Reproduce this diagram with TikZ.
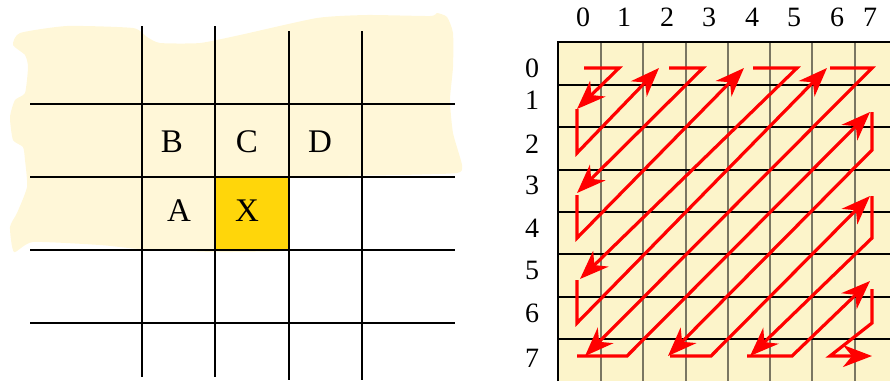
\documentclass[tikz,border=0pt]{standalone}
\usepackage{fontspec}
\setmainfont{Liberation Serif}
\usetikzlibrary{arrows.meta}
\definecolor{cream}{HTML}{FFF7D8}
\definecolor{gold}{HTML}{FFD60A}
\definecolor{gridfill}{HTML}{FCF4CA}
\definecolor{gridgray}{HTML}{7A7662}
\definecolor{zzred}{HTML}{FF0000}
\tikzset{
  lgrid/.style={line width=1.5pt, black},
  vline/.style={line width=1.3pt, gridgray},
  hline/.style={line width=1.1pt, black},
  zz/.style={line width=3.2pt, zzred, -{Stealth[length=29pt, width=22pt, inset=9pt]}},
  letter/.style={font=\fontsize{33}{35}\selectfont, inner sep=0pt},
  num/.style={font=\fontsize{28}{30}\selectfont, inner sep=0pt},
}
\begin{document}
\begin{tikzpicture}[x=1pt, y=-1pt]
\useasboundingbox (0,0) rectangle (890,381);
% ---------- left picture ----------
\fill[cream] plot[smooth cycle, tension=0.35] coordinates {
 (13,45) (20,33) (67,26) (133,28) (147,37) (160,43) (200,43) (240,35) (317,18)
 (367,15) (430,16) (437,13) (447,17) (453,33) (453,67) (450,100) (453,133)
 (462,165) (457,173) (400,175) (330,176) (292,177) (289,182) (289,246) (284,251)
 (215,252) (140,249) (100,245) (33,242) (14,252) (10,227) (17,213) (27,187)
 (25,160) (23,147) (13,140) (10,117) (15,100) (25,93) (28,67) (25,55)};
\fill[gold] (215,177) rectangle (289,250);
\foreach \y in {104,177,250,323} \draw[lgrid] (30,\y) -- (455,\y);
\draw[lgrid] (142,26) -- (142,377);
\draw[lgrid] (215,26) -- (215,377);
\draw[lgrid] (289,31) -- (289,380);
\draw[lgrid] (362,31) -- (362,380);
\node[letter] (B) at (172,142) {B};
\node[letter] (C) at (247,142) {C};
\node[letter] (D) at (320,142) {D};
\node[letter] (A) at (179,211) {A};
\node[letter] (X) at (247,211) {X};
% ---------- right picture ----------
\fill[gridfill] (558,42) rectangle (890,381);
\foreach \x in {601,643,686,728,770,812,855} \draw[vline] (\x,43) -- (\x,381);
\foreach \y in {85,127,170,212,254,297,339} \draw[hline] (559,\y) -- (890,\y);
\draw[line width=2.5pt, black] (558,381) -- (558,42) -- (890,42);
% column labels
\foreach \x/\t in {583/0,624/1,667/2,709/3,752/4,794/5,837/6,870/7}
  \node[num] (c\t) at (\x,17) {\t};
% row labels
\foreach \y/\t in {68/0,100/1,144/2,185/3,228/4,270/5,313/6,358/7}
  \node[num] (r\t) at (532,\y) {\t};
% zigzag path
\draw[zz] (584,68) -- (619,68) -- (577,109);
\draw[zz] (577,109) -- (577,153) -- (659,68);
\draw[zz] (669,68) -- (703,68) -- (577,193);
\draw[zz] (577,195) -- (577,238) -- (744,68);
\draw[zz] (753,68) -- (797,68) -- (580,279);
\draw[zz] (577,280) -- (577,323) -- (827,68);
\draw[zz] (830,68) -- (872,68) -- (585,356);
\draw[zz] (577,356) -- (627,356) -- (870,112);
\draw[zz] (872,112) -- (872,150) -- (668,356);
\draw[zz] (670,356) -- (711,356) -- (870,196);
\draw[zz] (872,196) -- (872,238) -- (750,356);
\draw[zz] (747,356) -- (792,356) -- (870,281);
\draw[zz] (872,289) -- (872,323) -- (830,356) -- (872,356);
\end{tikzpicture}
\end{document}
